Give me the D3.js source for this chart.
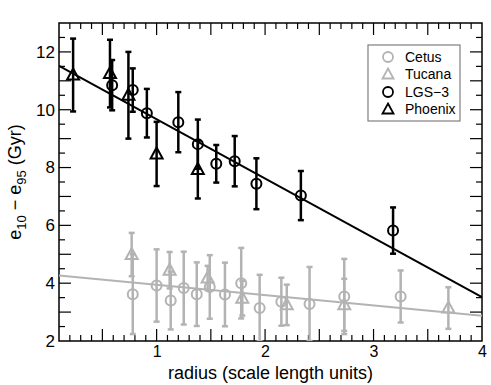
<!DOCTYPE html>
<html>
<head>
<meta charset="utf-8">
<script src="https://cdn.jsdelivr.net/npm/d3@7"></script>
<style>
  body { margin: 0; background: #fff; }
  text { font-family: "Liberation Sans", Arial, Helvetica, sans-serif; }
</style>
</head>
<body>
<div id="chart"></div>
<script>
(function () {
  'use strict';

  // LGS-3 (black circles)
  var lgs3X = [0.59, 0.78, 0.91, 1.20, 1.38, 1.55, 1.72, 1.92, 2.33, 3.18];
  var lgs3Y = [10.85, 10.68, 9.88, 9.57, 8.81, 8.13, 8.22, 7.44, 7.03, 5.82];
  var lgs3Err = [0.87, 0.75, 0.84, 1.04, 0.85, 0.65, 0.87, 0.88, 0.85, 0.8];

  // Phoenix (black triangles)
  var phoenixX = [0.23, 0.57, 0.74, 1.0, 1.38];
  var phoenixY = [11.2, 11.25, 10.5, 8.47, 7.93];
  var phoenixErr = [1.26, 1.17, 1.5, 1.11, 1.0];

  // Cetus (grey circles)
  var cetusX = [0.78, 1.0, 1.13, 1.25, 1.37, 1.49, 1.63, 1.78, 1.95, 2.15, 2.41, 2.73, 3.25];
  var cetusY = [3.62, 3.92, 3.40, 3.83, 3.62, 3.87, 3.61, 4.0, 3.14, 3.36, 3.28, 3.54, 3.54];
  var cetusErr = [1.38, 1.25, 1.0, 1.26, 1.1, 1.1, 1.1, 1.22, 1.15, 0.83, 1.28, 1.3, 0.9];

  // Tucana (grey triangles)
  var tucanaX = [0.77, 1.12, 1.47, 1.79, 2.2, 2.73, 3.69];
  var tucanaY = [4.99, 4.45, 4.18, 3.48, 3.25, 3.25, 3.14];
  var tucanaErr = [0.75, 0.63, 0.42, 0.6, 0.7, 0.9, 0.72];

  // linear fits, value at each end of the x range
  var fitX = [0.1, 4];
  var darkFitY = [11.52, 3.52];
  var greyFitY = [4.27, 2.87];

  var xTickLabels = [1, 2, 3, 4];
  var yTickLabels = [2, 4, 6, 8, 10, 12];
  var legendNames = ['Cetus', 'Tucana', 'LGS\u22123', 'Phoenix'];

  var grey = '#b3b3b3', dark = '#000';

  var width = 491, height = 385;
  var margin = {top: 23, right: 9, bottom: 44, left: 59};
  var w = width - margin.left - margin.right,
      h = height - margin.top - margin.bottom;

  var x = d3.scaleLinear().domain([0.1, 4]).range([0, w]);
  var y = d3.scaleLinear().domain([2, 13]).range([h, 0]);

  var svg = d3.select('#chart')
    .append('svg')
    .attr('width', width)
    .attr('height', height)
    .append('g')
    .attr('transform', 'translate(' + margin.left + ',' + margin.top + ')');

  svg.append('clipPath').attr('id', 'clip')
    .append('rect').attr('width', w).attr('height', h);

  // ticks, all pointing inwards
  var xMinor = d3.range(2, 40).map(function (d) { return d / 10; });
  var yMinor = d3.range(5, 26).map(function (d) { return d / 2; });
  function xLen(d) { return Math.abs(d * 2 - Math.round(d * 2)) < 1e-6 ? 12 : 6; }
  function yLen(d) { return Number.isInteger(d) ? 12 : 6; }

  [['bottom', h], ['top', 0]].forEach(function (a) {
    var g = svg.append('g').attr('transform', 'translate(0,' + a[1] + ')');
    xMinor.forEach(function (d) {
      g.append('line')
        .attr('x1', x(d)).attr('x2', x(d))
        .attr('y1', 0).attr('y2', a[0] === 'bottom' ? -xLen(d) : xLen(d))
        .attr('stroke', '#000').attr('stroke-width', 1.2);
    });
  });
  [['left', 0], ['right', w]].forEach(function (a) {
    var g = svg.append('g').attr('transform', 'translate(' + a[1] + ',0)');
    yMinor.forEach(function (d) {
      g.append('line')
        .attr('y1', y(d)).attr('y2', y(d))
        .attr('x1', 0).attr('x2', a[0] === 'left' ? yLen(d) : -yLen(d))
        .attr('stroke', '#000').attr('stroke-width', 1.2);
    });
  });

  // tick labels via d3 axes (tick marks hidden)
  var xAxis = svg.append('g')
    .attr('transform', 'translate(0,' + h + ')')
    .call(d3.axisBottom(x).tickValues(xTickLabels).tickSize(0).tickPadding(5).tickFormat(d3.format('d')));
  xAxis.select('.domain').remove();
  xAxis.selectAll('text').attr('font-size', 16).attr('font-family', null).attr('fill', '#000');

  var yAxis = svg.append('g')
    .call(d3.axisLeft(y).tickValues(yTickLabels).tickSize(0).tickPadding(4).tickFormat(d3.format('d')));
  yAxis.select('.domain').remove();
  yAxis.selectAll('text').attr('font-size', 17).attr('font-family', null).attr('fill', '#000');

  svg.append('rect')
    .attr('width', w).attr('height', h)
    .attr('fill', 'none').attr('stroke', '#000').attr('stroke-width', 1.5);

  var plot = svg.append('g').attr('clip-path', 'url(#clip)');

  var line = d3.line()
    .x(function (d) { return x(d[0]); })
    .y(function (d) { return y(d[1]); });

  function fit(ys, colour) {
    plot.append('path')
      .datum(d3.zip(fitX, ys))
      .attr('d', line)
      .attr('fill', 'none')
      .attr('stroke', colour)
      .attr('stroke-width', 2);
  }

  function errorBars(xs, ys, es, colour) {
    var g = plot.append('g').attr('stroke', colour).attr('stroke-width', 2.5).attr('fill', 'none');
    xs.forEach(function (xv, i) {
      var top = y(ys[i] + es[i]), bot = y(ys[i] - es[i]), cx = x(xv);
      g.append('line').attr('x1', cx).attr('x2', cx).attr('y1', top).attr('y2', bot);
      g.append('line').attr('x1', cx - 3).attr('x2', cx + 3).attr('y1', top).attr('y2', top);
      g.append('line').attr('x1', cx - 3).attr('x2', cx + 3).attr('y1', bot).attr('y2', bot);
    });
  }

  var triangle = 'M0,-6.5L6,4.5L-6,4.5Z';

  function markers(xs, ys, shape, colour) {
    var pts = plot.append('g').selectAll('g')
      .data(d3.zip(xs, ys))
      .enter().append('g')
      .attr('transform', function (d) { return 'translate(' + x(d[0]) + ',' + y(d[1]) + ')'; });
    if (shape === 'circle') {
      pts.append('circle').attr('r', 5);
    } else {
      pts.append('path').attr('d', triangle);
    }
    pts.selectAll('*').attr('fill', 'none').attr('stroke', colour).attr('stroke-width', 2);
  }

  fit(greyFitY, grey);
  errorBars(cetusX, cetusY, cetusErr, grey);
  errorBars(tucanaX, tucanaY, tucanaErr, grey);
  markers(cetusX, cetusY, 'circle', grey);
  markers(tucanaX, tucanaY, 'triangle', grey);

  fit(darkFitY, dark);
  errorBars(lgs3X, lgs3Y, lgs3Err, dark);
  errorBars(phoenixX, phoenixY, phoenixErr, dark);
  markers(lgs3X, lgs3Y, 'circle', dark);
  markers(phoenixX, phoenixY, 'triangle', dark);

  // legend
  var legend = svg.append('g').attr('transform', 'translate(309,22)');
  legend.append('rect')
    .attr('width', 92).attr('height', 76)
    .attr('fill', '#fff').attr('stroke', '#7f7f7f').attr('stroke-width', 1.2);
  var shapes = ['circle', 'triangle', 'circle', 'triangle'];
  var colours = [grey, grey, dark, dark];
  legendNames.forEach(function (name, i) {
    var row = legend.append('g').attr('transform', 'translate(20,' + (12 + i * 17.5) + ')');
    if (shapes[i] === 'circle') {
      row.append('circle').attr('r', 5);
    } else {
      row.append('path').attr('d', 'M0,-6L5.5,4L-5.5,4Z');
    }
    row.select('*').attr('fill', 'none').attr('stroke', colours[i]).attr('stroke-width', 1.8);
    row.append('text')
      .attr('x', 17).attr('dy', '0.35em')
      .attr('font-size', 14)
      .text(name);
  });

  // axis titles
  svg.append('text')
    .attr('x', w / 2).attr('y', h + 38)
    .attr('text-anchor', 'middle')
    .attr('font-size', 18)
    .text('radius (scale length units)');

  var yt = svg.append('text')
    .attr('transform', 'translate(-38,' + h / 2 + ') rotate(-90)')
    .attr('text-anchor', 'middle')
    .attr('font-size', 18);
  yt.append('tspan').text('e');
  yt.append('tspan').attr('font-size', 13).attr('dy', 5).text('10');
  yt.append('tspan').attr('dy', -5).text(' \u2212 e');
  yt.append('tspan').attr('font-size', 13).attr('dy', 5).text('95');
  yt.append('tspan').attr('dy', -5).text(' (Gyr)');
}());
</script>
</body>
</html>
